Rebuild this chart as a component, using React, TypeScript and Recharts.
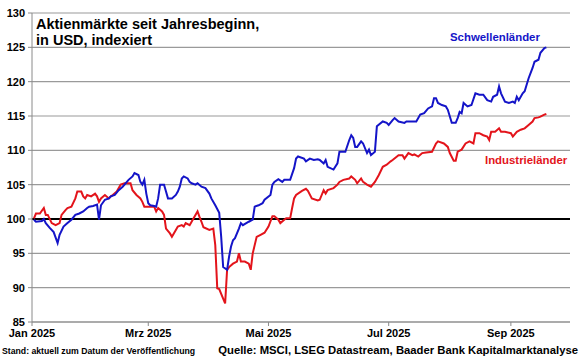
import React from 'react';
import { LineChart, Line, XAxis, YAxis, CartesianGrid, ReferenceLine } from 'recharts';

// days since 1 Jan 2025, index values (start = 100)
const schwellenDays = [
  1, 2, 5, 6, 7, 9, 11, 13, 14, 16, 18, 20, 22, 24, 26, 28, 29, 31, 33, 34, 35, 37, 39, 40, 42, 44, 46, 49,
  51, 52, 54, 55, 56, 57, 58, 59, 60, 62, 63, 64, 65, 67, 68, 69, 71, 73, 74, 75, 76, 77, 79, 80, 81, 83, 84,
  86, 88, 90, 91, 93, 95, 96, 97, 99, 100, 101, 102, 103, 105, 106, 107, 110, 112, 113, 115, 117, 118, 121,
  122, 123, 125, 127, 128, 131, 133, 134, 135, 138, 139, 141, 143, 145, 146, 148, 149, 150, 153, 155, 156,
  159, 161, 162, 163, 164, 165, 167, 168, 170, 171, 172, 174, 175, 178, 180, 181, 183, 184, 186, 189, 190,
  194, 195, 197, 199, 201, 203, 204, 205, 206, 208, 210, 211, 213, 215, 216, 217, 218, 219, 221, 223, 225,
  227, 229, 231, 233, 234, 236, 237, 238, 240, 242, 244, 245, 246, 247, 249, 250, 252, 254, 255, 257, 258,
  260, 261,
];
const schwellenValues = [
  99.9, 99.6, 99.7, 100.0, 99.4, 98.7, 98.1, 96.5, 97.7, 98.9, 99.4, 99.9, 100.6, 100.8, 101.1, 101.6, 101.8,
  101.9, 102.1, 99.9, 102.0, 102.8, 103.0, 103.3, 103.5, 104.2, 104.7, 105.7, 106.2, 106.7, 106.4, 105.4,
  105.0, 105.7, 103.7, 102.3, 102.0, 101.9, 101.8, 103.0, 105.0, 105.0, 104.0, 103.0, 103.0, 103.5, 104.0,
  104.7, 105.9, 106.2, 105.9, 105.4, 105.2, 105.0, 105.2, 104.7, 104.5, 103.7, 103.0, 102.0, 100.9, 97.4,
  93.0, 92.6, 94.5, 96.0, 96.9, 97.2, 98.6, 99.4, 99.1, 99.6, 99.9, 101.8, 102.0, 102.3, 102.8, 103.5, 105.0,
  105.4, 105.8, 105.4, 105.7, 105.7, 107.4, 108.8, 109.1, 108.8, 108.4, 108.8, 108.6, 108.7, 108.6, 108.1,
  108.6, 107.6, 107.2, 108.1, 109.8, 109.8, 111.5, 112.2, 111.8, 110.5, 110.5, 111.3, 111.0, 109.6, 110.1,
  109.3, 109.8, 113.5, 114.2, 114.0, 113.7, 114.4, 114.7, 114.2, 114.0, 114.2, 114.2, 114.2, 115.2, 115.4,
  116.1, 116.4, 117.6, 117.6, 116.9, 116.6, 116.4, 115.9, 114.0, 114.0, 114.7, 115.6, 115.4, 116.9, 116.4,
  116.6, 118.3, 118.1, 118.1, 117.3, 117.1, 117.8, 118.1, 119.3, 118.3, 117.1, 116.9, 117.1, 116.9, 117.8,
  117.3, 118.3, 118.6, 120.5, 122.0, 122.9, 123.2, 124.2, 124.9, 125.0,
];

const industrieDays = [
  1, 2, 4, 6, 7, 8, 10, 12, 14, 15, 17, 18, 20, 22, 23, 25, 26, 27, 28, 30, 32, 33, 34, 35, 37, 39, 40, 41, 43,
  45, 47, 48, 50, 51, 53, 55, 56, 57, 59, 62, 63, 64, 66, 67, 68, 70, 71, 73, 74, 76, 77, 78, 80, 82, 84, 85,
  86, 87, 90, 92, 93, 94, 95, 97, 98, 99, 100, 102, 104, 105, 106, 108, 110, 111, 112, 114, 116, 118, 120,
  122, 123, 125, 126, 128, 129, 131, 132, 133, 134, 137, 139, 140, 142, 145, 146, 148, 149, 150, 153, 155,
  156, 158, 161, 162, 164, 165, 167, 168, 170, 172, 174, 176, 178, 180, 182, 183, 186, 188, 189, 191, 193,
  194, 196, 198, 200, 203, 205, 206, 209, 211, 212, 214, 215, 216, 218, 220, 222, 224, 225, 227, 229, 231,
  232, 233, 235, 237, 238, 240, 243, 244, 246, 248, 250, 252, 254, 255, 257, 258, 260, 261,
];
const industrieValues = [
  100.1, 100.8, 100.8, 101.6, 100.6, 100.6, 99.4, 99.1, 99.4, 100.6, 101.3, 101.6, 101.8, 103.0, 104.0, 104.0,
  103.3, 103.0, 103.5, 103.3, 103.7, 103.3, 102.5, 103.0, 103.5, 103.0, 103.3, 103.5, 104.0, 105.0, 105.2,
  105.2, 105.2, 104.2, 103.5, 103.0, 102.5, 101.8, 101.8, 101.8, 101.1, 101.6, 101.1, 100.6, 98.6, 97.9, 97.4,
  98.4, 98.9, 99.1, 98.9, 99.4, 99.1, 100.1, 101.1, 100.3, 99.6, 98.8, 98.4, 98.6, 96.2, 89.9, 89.8, 88.4,
  87.7, 92.6, 93.0, 93.5, 93.8, 95.0, 93.8, 93.8, 93.5, 92.6, 95.0, 97.4, 97.7, 98.0, 98.9, 100.4, 100.4,
  99.9, 99.4, 99.9, 100.1, 100.1, 101.6, 103.0, 103.5, 104.1, 104.4, 104.1, 103.0, 102.7, 102.8, 104.2, 103.7,
  104.2, 104.5, 105.0, 105.4, 105.7, 105.9, 106.2, 105.7, 105.2, 105.9, 105.4, 105.0, 104.7, 105.4, 106.4,
  107.6, 107.9, 108.4, 108.6, 109.3, 109.3, 108.8, 109.6, 109.3, 109.4, 109.1, 109.6, 109.7, 109.8, 111.0,
  111.3, 111.0, 110.5, 109.6, 108.5, 108.5, 109.8, 110.1, 111.0, 111.3, 111.0, 112.5, 112.5, 112.2, 112.0,
  111.5, 112.7, 112.7, 113.2, 112.7, 112.7, 112.5, 112.0, 112.7, 113.0, 113.2, 113.7, 114.2, 114.7, 114.8,
  114.9, 115.2, 115.3,
];

const xTickDays = [0, 59, 120, 181, 243];
const xTickLabels = ['Jan 2025', 'Mrz 2025', 'Mai 2025', 'Jul 2025', 'Sep 2025'];
const yTicks = [85, 90, 95, 100, 105, 110, 115, 120, 125, 130];

const toSeries = (days: number[], values: number[]) => days.map((d, i) => ({ d, v: values[i] }));
const schwellen = toSeries(schwellenDays, schwellenValues);
const industrie = toSeries(industrieDays, industrieValues);

const BLUE = '#1414c8';
const RED = '#e3141b';
const FONT = '"Liberation Sans", Arial, sans-serif';

const tickStyle = { fill: '#000', fontSize: 11, fontWeight: 700, fontFamily: FONT };

export default function App() {
  const formatX = (d: number) => xTickLabels[xTickDays.indexOf(d)] ?? '';

  return (
    <div style={{ position: 'absolute', left: 0, top: 0, width: 580, height: 358, background: '#fff', fontFamily: FONT }}>
      <LineChart width={580} height={358} margin={{ top: 13, right: 10, bottom: 14, left: 0 }}>
        <CartesianGrid vertical={false} stroke="#9a9a9a" strokeWidth={1.2} />
        <XAxis
          dataKey="d"
          type="number"
          domain={[0, 273]}
          ticks={xTickDays}
          tickFormatter={formatX}
          allowDataOverflow
          height={22}
          tick={tickStyle}
          tickSize={4}
          tickMargin={3}
          stroke="#8a8a8a"
          interval={0}
        />
        <YAxis
          type="number"
          domain={[85, 130]}
          ticks={yTicks}
          width={32}
          tick={tickStyle}
          tickSize={4}
          tickMargin={3}
          stroke="#8a8a8a"
          interval={0}
        />
        <ReferenceLine y={100} stroke="#000" strokeWidth={2} />
        <Line
          data={industrie}
          dataKey="v"
          type="linear"
          stroke={RED}
          strokeWidth={2}
          dot={false}
          isAnimationActive={false}
        />
        <Line
          data={schwellen}
          dataKey="v"
          type="linear"
          stroke={BLUE}
          strokeWidth={2}
          dot={false}
          isAnimationActive={false}
        />
      </LineChart>

      <div style={{ position: 'absolute', left: 36, top: 16, fontSize: 14.5, lineHeight: '16px', fontWeight: 700, color: '#000' }}>
        Aktienmärkte seit Jahresbeginn,
        <br />
        in USD, indexiert
      </div>
      <div style={{ position: 'absolute', left: 450, top: 30.5, fontSize: 11.4, lineHeight: '13px', fontWeight: 700, color: BLUE }}>
        Schwellenländer
      </div>
      <div style={{ position: 'absolute', left: 485, top: 153.5, fontSize: 11.4, lineHeight: '13px', fontWeight: 700, color: RED }}>
        Industrieländer
      </div>
      <div style={{ position: 'absolute', left: 2, top: 346, fontSize: 8.7, lineHeight: '10px', fontWeight: 700, color: '#000', whiteSpace: 'nowrap' }}>
        Stand: aktuell zum Datum der Veröffentlichung
      </div>
      <div style={{ position: 'absolute', right: 2, top: 343.5, fontSize: 11.3, lineHeight: '13px', fontWeight: 700, color: '#000', whiteSpace: 'nowrap' }}>
        Quelle: MSCI, LSEG Datastream, Baader Bank Kapitalmarktanalyse
      </div>
    </div>
  );
}
